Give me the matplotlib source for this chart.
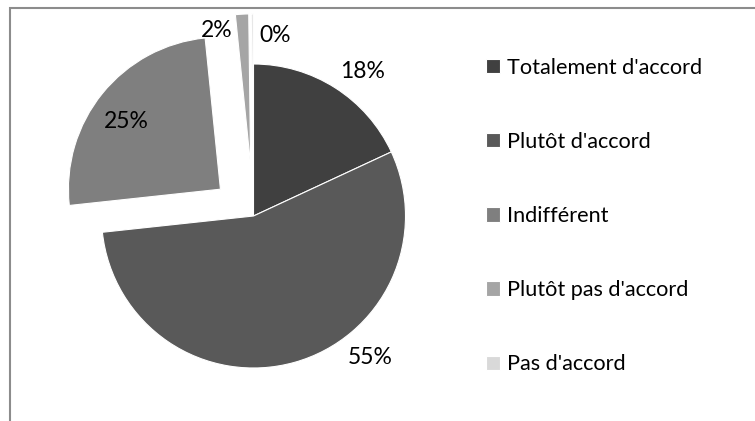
import matplotlib
matplotlib.use("Agg")
import matplotlib.pyplot as plt
from matplotlib.patches import Rectangle

categories = ["Totalement d'accord", "Plutôt d'accord", "Indifférent",
              "Plutôt pas d'accord", "Pas d'accord"]
values = [18, 55, 25, 1.4, 0.2]
pct_labels = ["18%", "55%", "25%", "2%", "0%"]

colors = ["#404040", "#595959", "#7f7f7f", "#a5a5a5", "#d9d9d9"]
explode = [0, 0, 0.28, 0.33, 0.33]
# label positions in pie-radius units (Excel best-fit placement)
label_pos = [(0.720, 0.951), (0.766, -0.934), (-0.836, 0.622),
             (-0.240, 1.220), (0.141, 1.188)]

plt.rcParams['font.family'] = ['Lato', 'DejaVu Sans']

W, H, DPI = 755, 421, 100
fig = plt.figure(figsize=(W / DPI, H / DPI), dpi=DPI)

# pie geometry in pixels
cx, cy, R = 253.5, 216.0, 152.0
left_px, right_px, top_px, bot_px = 10, 460, 9, 421
ax = fig.add_axes([left_px / W, (H - bot_px) / H,
                   (right_px - left_px) / W, (bot_px - top_px) / H])

wedges, _ = ax.pie(values, colors=colors, explode=explode, startangle=90,
                   counterclock=False, radius=1,
                   wedgeprops=dict(edgecolor="white", linewidth=0.8))
for w in wedges:
    w.set_clip_on(True)
ax.set_aspect('auto')
ax.set_xlim((left_px - cx) / R, (right_px - cx) / R)
ax.set_ylim((cy - bot_px) / R, (cy - top_px) / R)
ax.axis('off')

for txt, (x, y) in zip(pct_labels, label_pos):
    ax.text(x, y, txt, ha='center', va='center', fontsize=16.5,
            color='#000000', clip_on=False)

leg = fig.legend(wedges, categories, loc='center left',
                 bbox_to_anchor=(486 / W, 1 - 216 / H), frameon=False,
                 fontsize=15.6, handlelength=0.64, handleheight=0.64,
                 handletextpad=0.35, labelspacing=2.5, borderaxespad=0,
                 borderpad=0)
for t in leg.get_texts():
    t.set_color('#000000')

# outer chart frame (partially cut off on right/bottom)
fig.patches.append(Rectangle((9.5 / W, -0.1), 1.2, 1.1 - 8.5 / H,
                             transform=fig.transFigure, fill=False,
                             edgecolor='#8c8c8c', linewidth=1.5))

fig.savefig("out.png", dpi=DPI)
